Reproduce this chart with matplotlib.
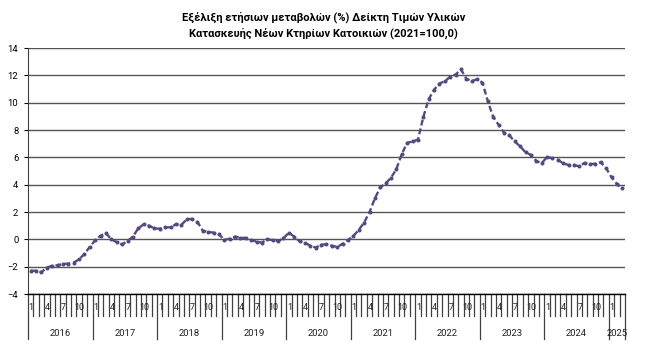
import numpy as np
import matplotlib
matplotlib.use("Agg")
import matplotlib.pyplot as plt
import matplotlib.transforms as mtransforms

plt.rcParams['font.family'] = ['Roboto', 'DejaVu Sans']

# yearly % change, monthly Jan 2016 - Mar 2025
years = ["2016", "2017", "2018", "2019", "2020", "2021", "2022", "2023", "2024", "2025"]
months_shown = ["1", "4", "7", "10"]
values = [
    -2.3, -2.3, -2.4, -2.07, -1.93, -1.9, -1.8, -1.78, -1.7, -1.46, -1.07, -0.54,   # 2016
    -0.07, 0.27, 0.44, 0.0, -0.2, -0.37, -0.12, 0.2, 0.8, 1.1, 1.0, 0.8,           # 2017
    0.78, 0.88, 0.88, 1.1, 1.05, 1.46, 1.5, 1.27, 0.63, 0.54, 0.49, 0.37,          # 2018
    -0.05, 0.05, 0.2, 0.12, 0.1, -0.05, -0.17, -0.24, 0.02, -0.07, -0.12, 0.07,    # 2019
    0.49, 0.2, -0.15, -0.27, -0.46, -0.6, -0.39, -0.37, -0.47, -0.56, -0.32, -0.05,  # 2020
    0.25, 0.69, 1.23, 2.0, 3.0, 3.8, 4.1, 4.5, 5.15, 6.25, 7.06, 7.16,             # 2021
    7.3, 8.95, 10.25, 10.95, 11.4, 11.57, 11.9, 12.06, 12.43, 11.76, 11.57, 11.72,  # 2022
    11.47, 10.1, 8.95, 8.38, 7.8, 7.6, 7.16, 6.8, 6.37, 6.18, 5.74, 5.56,          # 2023
    6.03, 5.93, 5.83, 5.56, 5.44, 5.44, 5.34, 5.6, 5.5, 5.54, 5.64, 5.2,           # 2024
    4.53, 4.04, 3.73,                                                              # 2025
]

n = len(values)
x = np.arange(n)
line_color = '#56497E'
grid_color = '#555555'

fig = plt.figure(figsize=(6.47, 3.62), dpi=100)
ax = fig.add_axes([28 / 647, 1 - 294 / 362, (625 - 28) / 647, (294 - 48) / 362])

ax.plot(x, values, color=line_color, lw=1.7, dashes=(2.5, 1.3),
        marker='o', markersize=2.9, markeredgewidth=0, zorder=3)

ax.set_xlim(-0.5, n - 0.5)
ax.set_ylim(-4, 14)
ax.set_yticks(np.arange(-4, 15, 2))
ax.yaxis.grid(True, color=grid_color, lw=1)
ax.set_axisbelow(True)
ax.tick_params(axis='y', length=3, width=0.8, pad=4, labelsize=6.8, color='black')
ax.set_xticks([])

for s in ['top', 'right']:
    ax.spines[s].set_visible(False)
ax.spines['left'].set_color('#404040')
ax.spines['bottom'].set_color('black')
ax.spines['bottom'].set_linewidth(1)

trans = mtransforms.blended_transform_factory(ax.transData, ax.transAxes)
h = 294 - 48
# monthly tick lines
for k in range(n + 1):
    long = (k % 12 == 0) or k == n
    y0 = -45 / h if long else -22 / h
    ax.plot([k - 0.5, k - 0.5], [0, y0], transform=trans, color='#404040',
            lw=0.9, clip_on=False)

# month labels
for i in range(n):
    m = str(i % 12 + 1)
    if m in months_shown:
        ax.text(i + 0.1, -14 / h, m, transform=trans, ha='center', va='center',
                fontsize=6.5, color='#222222')

# year labels
for j, yr in enumerate(years):
    start = j * 12
    end = min(start + 12, n)
    ax.text((start + end - 1) / 2, -39 / h, yr, transform=trans, ha='center',
            va='center', fontsize=6.8, color='#222222')

fig.text(0.5, 1 - 17 / 362,
         "Εξέλιξη ετήσιων μεταβολών (%) Δείκτη Τιμών Υλικών",
         ha='center', va='center', fontsize=8, fontweight='bold')
fig.text(0.5, 1 - 33 / 362,
         "Κατασκευής Νέων Κτηρίων Κατοικιών (2021=100,0)",
         ha='center', va='center', fontsize=8, fontweight='bold')

fig.savefig('out.png', dpi=100)
